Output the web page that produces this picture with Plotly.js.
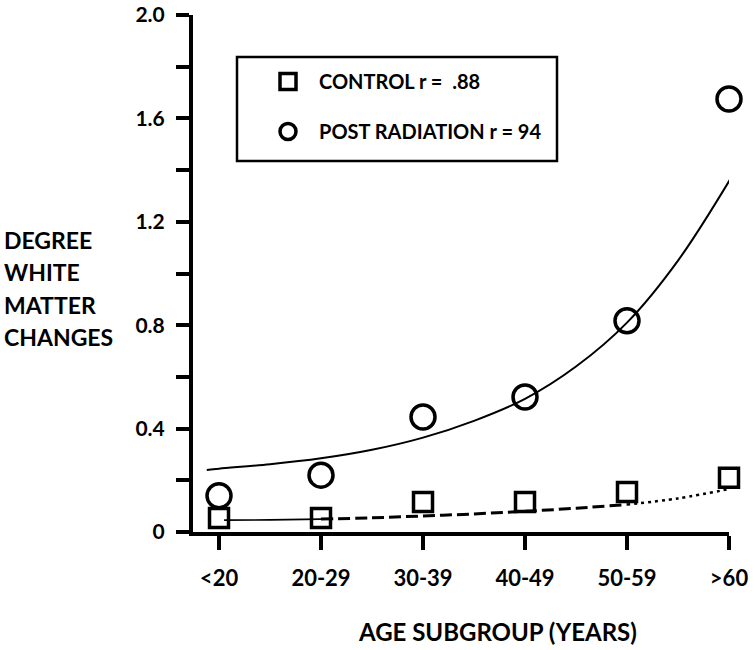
<!DOCTYPE html>
<html>
<head>
<meta charset="utf-8">
<script src="https://cdn.plot.ly/plotly-3.0.1.min.js"></script>
<style>
  html, body { margin: 0; padding: 0; background: #ffffff; }
  #chart { width: 755px; height: 650px; }
</style>
</head>
<body>
<div id="chart"></div>
<script>
// ---- data ----
const categories = ['<20', '20-29', '30-39', '40-49', '50-59', '>60'];
const controlValues = [0.054, 0.054, 0.116, 0.116, 0.155, 0.21];
const radiationValues = [0.14, 0.22, 0.445, 0.522, 0.817, 1.675];

// fitted curves as drawn in the reference (sampled along the category index)
const radiationFitX = [-0.12, 0, 0.5, 1, 1.5, 2, 2.5, 3, 3.5, 4, 4.5, 5.02];
const radiationFitY = [0.24, 0.245, 0.262, 0.285, 0.318, 0.365, 0.43, 0.515, 0.64, 0.81, 1.05, 1.37];

const controlFitSolidX = [0.05, 0.5, 1];
const controlFitSolidY = [0.046, 0.047, 0.05];
const controlFitDashX = [1, 1.5, 2, 2.5, 3, 3.5, 4];
const controlFitDashY = [0.05, 0.055, 0.062, 0.07, 0.08, 0.092, 0.106];
const controlFitDotX = [4, 4.5, 5.05];
const controlFitDotY = [0.106, 0.13, 0.17];

const yTickVals = [0, 0.2, 0.4, 0.6, 0.8, 1.0, 1.2, 1.4, 1.6, 1.8, 2.0];
const yTickText = ['0', '', '0.4', '', '0.8', '', '1.2', '', '1.6', '', '2.0'];

const controlName = 'CONTROL r =  .88';
const radiationName = 'POST RADIATION r = 94';
const yTitleLines = ['DEGREE', 'WHITE', 'MATTER', 'CHANGES'];
const xTitle = 'AGE SUBGROUP (YEARS)';

// ---- build ----
const catIndex = categories.map((c, i) => i);
const FONT = 'Lato, "Open Sans", "DejaVu Sans", sans-serif';

// pixel helpers for the plot area (l=193, w=536, t=15, h=517)
const px2x = p => (p - 193) / 536;
const px2y = p => (532 - p) / 517;

const traces = [
  {
    x: radiationFitX, y: radiationFitY, mode: 'lines', type: 'scatter',
    line: { color: '#000', width: 2, shape: 'spline', smoothing: 1 },
    showlegend: false, hoverinfo: 'skip', cliponaxis: false
  },
  {
    x: controlFitSolidX, y: controlFitSolidY, mode: 'lines', type: 'scatter',
    line: { color: '#000', width: 1.6, shape: 'spline' },
    showlegend: false, hoverinfo: 'skip', cliponaxis: false
  },
  {
    x: controlFitDashX, y: controlFitDashY, mode: 'lines', type: 'scatter',
    line: { color: '#000', width: 3, dash: '12px,5px', shape: 'spline' },
    showlegend: false, hoverinfo: 'skip', cliponaxis: false
  },
  {
    x: controlFitDotX, y: controlFitDotY, mode: 'lines', type: 'scatter',
    line: { color: '#000', width: 2.5, dash: '3px,4px', shape: 'spline' },
    showlegend: false, hoverinfo: 'skip', cliponaxis: false
  },
  {
    x: catIndex, y: controlValues, mode: 'markers', type: 'scatter',
    name: controlName, legendgroup: 'a',
    marker: { symbol: 'square-open', size: 19, color: '#000', line: { width: 3.5, color: '#000' } },
    cliponaxis: false
  },
  {
    x: catIndex, y: radiationValues, mode: 'markers', type: 'scatter',
    name: radiationName, legendgroup: 'b',
    marker: { symbol: 'circle-open', size: 24, color: '#000', line: { width: 3.5, color: '#000' } },
    cliponaxis: false
  }
];

const yTitleRows = [240, 272, 305, 337];
const annotations = yTitleLines.map((t, i) => ({
  xref: 'paper', yref: 'paper', x: px2x(2), y: px2y(yTitleRows[i]),
  xanchor: 'left', yanchor: 'middle', align: 'left', showarrow: false,
  text: t,
  font: { family: FONT, size: 23, weight: 'bold', color: '#000' }
}));
annotations.push({
  xref: 'paper', yref: 'paper', x: px2x(497), y: px2y(632),
  xanchor: 'center', yanchor: 'middle', showarrow: false,
  text: xTitle,
  font: { family: FONT, size: 24, weight: 'bold', color: '#000' }
});

const layout = {
  width: 755, height: 650,
  margin: { l: 193, r: 26, t: 15, b: 118 },
  paper_bgcolor: '#fff', plot_bgcolor: '#fff',
  font: { family: FONT, color: '#000', size: 18, weight: 'bold' },
  showlegend: true,
  legend: {
    x: px2x(257), y: px2y(62), xanchor: 'left', yanchor: 'top',
    borderwidth: 0, bgcolor: 'rgba(0,0,0,0)',
    font: { family: FONT, size: 20, color: '#000', weight: 'bold' },
    traceorder: 'grouped', tracegroupgap: 21,
    itemwidth: 52
  },
  shapes: [
    {
      type: 'rect', xref: 'paper', yref: 'paper',
      x0: px2x(237), x1: px2x(557), y0: px2y(161), y1: px2y(57),
      line: { color: '#000', width: 2.5 }, fillcolor: 'rgba(0,0,0,0)', layer: 'below'
    }
  ],
  xaxis: {
    range: [-0.255, 5], showgrid: false, zeroline: false,
    showline: true, linecolor: '#000', linewidth: 4,
    ticks: 'outside', ticklen: 14, tickwidth: 4, tickcolor: '#000',
    tickvals: catIndex, ticktext: categories,
    tickfont: { family: FONT, size: 22, weight: 'bold', color: '#000' },
    ticklabelstandoff: 10
  },
  yaxis: {
    range: [0, 2], showgrid: false, zeroline: false,
    showline: true, linecolor: '#000', linewidth: 4,
    ticks: 'outside', ticklen: 13, tickwidth: 4, tickcolor: '#000',
    tickvals: yTickVals, ticktext: yTickText,
    tickfont: { family: FONT, size: 21, weight: 'bold', color: '#000' },
    ticklabelstandoff: 7
  },
  annotations: annotations
};

Plotly.newPlot('chart', traces, layout, { displayModeBar: false, staticPlot: true });
</script>
</body>
</html>
